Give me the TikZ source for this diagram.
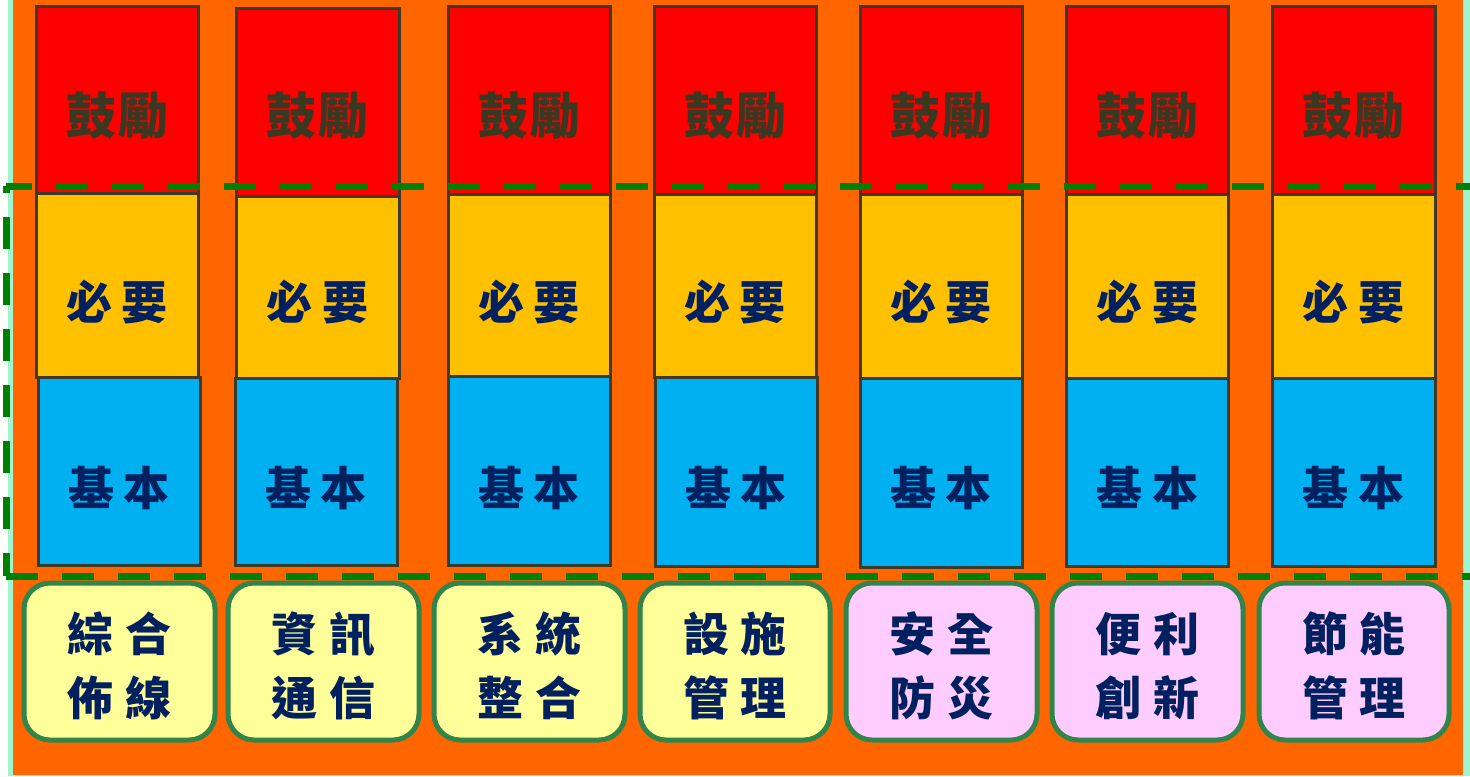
\documentclass[tikz,border=0pt]{standalone}
\usepackage{fontspec}
\newfontfamily\cjk{Noto Sans CJK TC}
\usetikzlibrary{fit}
\definecolor{bgorange}{HTML}{FF6600}
\definecolor{mint}{HTML}{A0F5D0}
\definecolor{rbox}{HTML}{FF0000}
\definecolor{ybox}{HTML}{FFC000}
\definecolor{bbox}{HTML}{00B0F0}
\definecolor{edge}{HTML}{3D3A2A}
\definecolor{navy}{HTML}{002060}
\definecolor{olive}{HTML}{3A3820}
\definecolor{dgreen}{HTML}{008000}
\definecolor{bgreen}{HTML}{31854A}
\definecolor{lyellow}{HTML}{FFFF99}
\definecolor{lpink}{HTML}{FFCCFF}
\tikzset{
  layer/.style={draw=edge, line width=1.5pt, inner sep=0pt, outer sep=0pt},
  toptxt/.style={font=\cjk\bfseries\fontsize{25pt}{29pt}\selectfont, text=olive, inner sep=0pt},
  midtxt/.style={font=\cjk\bfseries\fontsize{23pt}{27pt}\selectfont, text=navy, inner sep=0pt},
  cat/.style={draw=bgreen, line width=2.5pt, rounded corners=13pt, inner sep=0pt},
  cattxt/.style={align=center, font=\cjk\bfseries\fontsize{23pt}{32pt}\selectfont, text=navy, inner sep=0pt},
  dashline/.style={draw=dgreen, line width=3.5pt, dash pattern=on 16pt off 12pt},
}
\begin{document}
\begin{tikzpicture}[x=0.5pt, y=-0.5pt]
\useasboundingbox (0,0) rectangle (1470,776);
\fill[white] (0,0) rectangle (1470,776);
\fill[mint] (8,0) rectangle (1470,776);
\fill[bgorange] (13,0) rectangle (1463,775);
\foreach \i/\xl/\xr/\bl/\br/\yt/\ya/\yb/\yc in {
  1/36/198/38/200/6/193/377/565,
  2/236/399/235/397/8/196/378/565,
  3/448/610/448/610/6/194/376/565,
  4/654/816/655/817/6/194/377/566,
  5/860/1022/860/1022/6/194/378/567,
  6/1066/1228/1066/1228/6/194/378/566,
  7/1272/1435/1272/1435/6/194/378/566}
{
  \node[layer, fill=rbox, fit={(\xl,\yt) (\xr,\ya)}] (r\i) {};
  \node[layer, fill=ybox, fit={(\xl,\ya) (\xr,\yb)}] (y\i) {};
  \node[layer, fill=bbox, fit={(\bl,\yb) (\br,\yc)}] (b\i) {};
  \node[toptxt] (rt\i) at ({(\xl+\xr)/2},116) {鼓\hspace{1pt}勵};
  \node[midtxt] (yt\i) at ({(\xl+\xr)/2},302) {必\hspace{5pt}要};
  \node[midtxt] (bt\i) at ({(\bl+\br)/2},488) {基\hspace{5pt}本};
}
\draw[dashline, dash phase=3pt] (6,186) -- (1470,186);
\draw[dashline] (6,576) -- (1470,576);
\draw[dashline, dash phase=12.5pt] (6,186) -- (6,576);
\foreach \i/\xl/\xr/\fc/\ta/\tb/\tc/\td in {
  1/24/215/lyellow/綜/合/佈/線,
  2/228/419/lyellow/資/訊/通/信,
  3/434/625/lyellow/系/統/整/合,
  4/640/830/lyellow/設/施/管/理,
  5/846/1037/lpink/安/全/防/災,
  6/1052/1243/lpink/便/利/創/新,
  7/1259/1449/lpink/節/能/管/理}
{
  \node[cat, fill=\fc, fit={(\xl,583) (\xr,740)}] (c\i) {};
  \node[cattxt] (ct\i) at ({(\xl+\xr)/2},666) {\ta\hspace{6pt}\tb\\\tc\hspace{6pt}\td};
}
\end{tikzpicture}
\end{document}
